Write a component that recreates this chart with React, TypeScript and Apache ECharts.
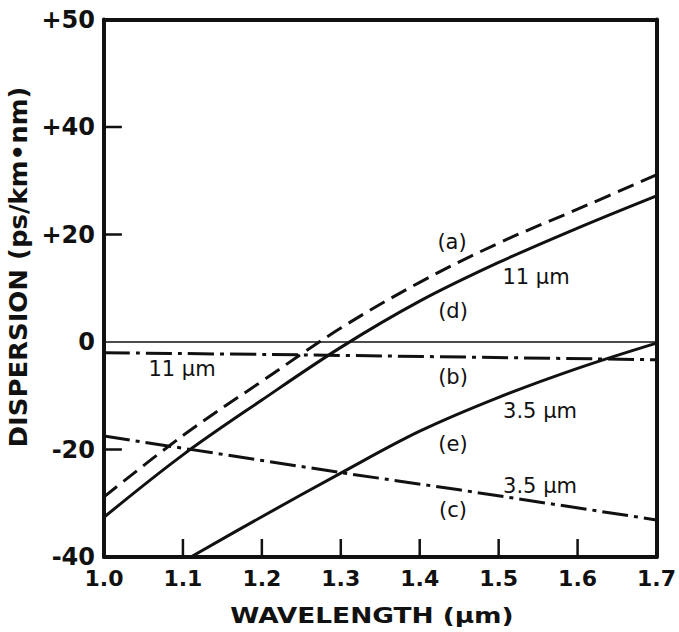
import React, { useEffect, useRef } from "react";
import * as echarts from "echarts";

// Wavelength (µm) and dispersion (ps/km·nm)
const aX = [1.0, 1.1, 1.2, 1.3, 1.4, 1.5, 1.6, 1.7];
const aY = [-28.8, -17.4, -7.3, 2.6, 11.1, 18.4, 24.7, 31.1];
const dX = [1.0, 1.1, 1.2, 1.3, 1.4, 1.5, 1.6, 1.7];
const dY = [-32.6, -21.0, -10.8, -1.0, 7.6, 14.8, 21.2, 27.2];
const eX = [1.11, 1.2, 1.3, 1.4, 1.5, 1.6, 1.7];
const eY = [-40, -32.5, -24.4, -16.6, -10.3, -4.9, -0.2];
const bX = [1.0, 1.25, 1.7];
const bY = [-2.0, -2.4, -3.3];
const cX = [1.0, 1.3, 1.45, 1.7];
const cY = [-17.5, -24.3, -27.5, -33.1];
const zeroX = [1.0, 1.7];
const zeroY = [0, 0];

// axis tick values and their printed labels (top tick is printed "+50")
const xInnerTicks = [1.1, 1.2, 1.3, 1.4, 1.5, 1.6];
const yInnerTicks = [-20, 20, 40];
const yTickValues = [-40, -20, 0, 20, 40, 60];
const yTickLabels = ["-40", "-20", "0", "+20", "+40", "+50"];

const annotations = [
  { text: "(a)", x: 452, y: 242 },
  { text: "11 \u00b5m", x: 536, y: 277 },
  { text: "(d)", x: 453, y: 311 },
  { text: "11 \u00b5m", x: 182, y: 369 },
  { text: "(b)", x: 453, y: 377 },
  { text: "3.5 \u00b5m", x: 540, y: 411 },
  { text: "(e)", x: 453, y: 444 },
  { text: "3.5 \u00b5m", x: 540, y: 486 },
  { text: "(c)", x: 453, y: 510 },
];

const zip = (xs: number[], ys: number[]) => xs.map((x, i) => [x, ys[i]]);

const INK = "#111111";
const FONT = "DejaVu Sans";
const DASHDOT = [26, 6, 4, 6];
const X_MIN = 1.0, X_MAX = 1.7, Y_MIN = -40, Y_MAX = 60;
const W = 679, H = 632;
const GRID = { left: 104, right: 19, top: 19.5, bottom: 75 };
const TICK_PX = 18;

export default function App() {
  const ref = useRef<HTMLDivElement>(null);
  useEffect(() => {
    if (!ref.current) return;
    const chart = echarts.init(ref.current, null, { renderer: "svg" });
    const plotW = W - GRID.left - GRID.right;
    const plotH = H - GRID.top - GRID.bottom;
    const tickDy = ((Y_MAX - Y_MIN) * TICK_PX) / plotH;
    const tickDx = ((X_MAX - X_MIN) * TICK_PX) / plotW;

    const lineSeries = (name: string, xs: number[], ys: number[], type: any, width: number, smooth: boolean) => ({
      name,
      type: "line",
      data: zip(xs, ys),
      showSymbol: false,
      smooth: smooth ? 0.35 : false,
      clip: false,
      lineStyle: { color: INK, width, type },
      silent: true,
    });

    const tickSeries = [
      ...xInnerTicks.map((x) =>
        lineSeries("tick x " + x, [x, x], [Y_MIN, Y_MIN + tickDy], "solid", 2.5, false)
      ),
      ...yInnerTicks.map((y) =>
        lineSeries("tick y " + y, [X_MIN, X_MIN + tickDx], [y, y], "solid", 2.5, false)
      ),
    ];

    const mkAxisLine = () => ({ show: true, onZero: false, lineStyle: { color: INK, width: 4 } });
    const frameAxis = () => ({
      axisLine: mkAxisLine(),
      axisTick: { show: false },
      axisLabel: { show: false },
      splitLine: { show: false },
    });
    chart.setOption({
      animation: false,
      grid: { ...GRID, show: false },
      xAxis: [
        {
          type: "value",
          position: "bottom",
          min: X_MIN,
          max: X_MAX,
          interval: 0.1,
          axisLine: mkAxisLine(),
          splitLine: { show: false },
          axisTick: { show: false },
          axisLabel: {
            color: INK,
            fontFamily: FONT,
            fontWeight: "bold",
            fontSize: 22,
            margin: 10,
            formatter: (v: number) => v.toFixed(1),
          },
        },
        { type: "value", position: "top", min: X_MIN, max: X_MAX, ...frameAxis() },
      ],
      yAxis: [
        {
          type: "value",
          position: "left",
          min: Y_MIN,
          max: Y_MAX,
          interval: 20,
          axisLine: mkAxisLine(),
          splitLine: { show: false },
          axisTick: { show: false },
          axisLabel: {
            color: INK,
            fontFamily: FONT,
            fontWeight: "bold",
            fontSize: 24,
            margin: 9,
            formatter: (v: number) => {
              const i = yTickValues.indexOf(Math.round(v));
              return i >= 0 ? yTickLabels[i] : "";
            },
          },
        },
        { type: "value", position: "right", min: Y_MIN, max: Y_MAX, ...frameAxis() },
      ],
      series: [
        lineSeries("zero", zeroX, zeroY, "solid", 1.5, false),
        ...tickSeries,
        lineSeries("(a) 11 µm", aX, aY, [17, 8], 3, true),
        lineSeries("(d) 11 µm", dX, dY, "solid", 3, true),
        lineSeries("(e) 3.5 µm", eX, eY, "solid", 3, true),
        lineSeries("(b) 11 µm", bX, bY, DASHDOT, 3, true),
        lineSeries("(c) 3.5 µm", cX, cY, DASHDOT, 3, false),
      ],
      graphic: [
        ...annotations.map((a) => ({
          type: "text",
          x: a.x,
          y: a.y,
          silent: true,
          style: {
            text: a.text,
            x: 0,
            y: 0,
            align: "center",
            verticalAlign: "middle",
            fill: INK,
            font: `21px "${FONT}"`,
          },
        })),
        {
          type: "text",
          x: 372,
          y: 615,
          scaleX: 1.2,
          silent: true,
          style: {
            text: "WAVELENGTH (\u00b5m)",
            x: 0,
            y: 0,
            align: "center",
            verticalAlign: "middle",
            fill: INK,
            font: `bold 22px "${FONT}"`,
          },
        },
        {
          type: "text",
          x: 19,
          y: 267,
          rotation: Math.PI / 2,
          scaleX: 1.08,
          silent: true,
          style: {
            text: "DISPERSION (ps/km\u2022nm)",
            x: 0,
            y: 0,
            align: "center",
            verticalAlign: "middle",
            fill: INK,
            font: `bold 24px "${FONT}"`,
          },
        },
      ],
    });
    return () => chart.dispose();
  }, []);
  return <div ref={ref} style={{ width: W, height: H, position: "absolute", left: 0, top: 0, background: "#fff" }} />;
}
